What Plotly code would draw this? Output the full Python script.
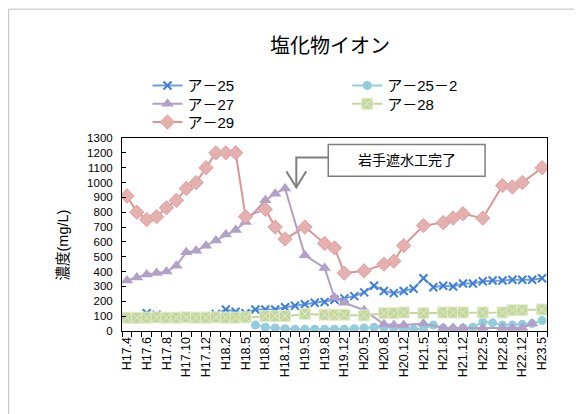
import plotly.graph_objects as go

categories = ["H17.4","H17.5","H17.6","H17.7","H17.8","H17.9","H17.10","H17.11","H17.12",
              "H18.1","H18.2","H18.3","H18.5","H18.7","H18.8","H18.10","H18.12",
              "H19.2","H19.5","H19.7","H19.8","H19.10","H19.12",
              "H20.2","H20.5","H20.7","H20.8","H20.10","H20.12",
              "H21.2","H21.5","H21.7","H21.8","H21.10","H21.12",
              "H22.2","H22.5","H22.7","H22.8","H22.10","H22.12",
              "H23.2","H23.5"]
tick_labels = ["H17.4","H17.6","H17.8","H17.10","H17.12","H18.2","H18.5","H18.8","H18.12",
               "H19.5","H19.8","H19.12","H20.5","H20.8","H20.12","H21.5","H21.8","H21.12",
               "H22.5","H22.8","H22.12","H23.5"]

a25 = [85, 95, 120, 110, 95, 90, 90, 95, 100, 115, 145, 130, 120, 145, 145, 145, 160,
       170, 180, 190, 195, 210, 220, 235, 260, 305, 270, 255, 270, 285, 355, 295, 305,
       300, 320, 320, 335, 340, 340, 345, 345, 345, 355]
a25_2 = [None]*13 + [40, 25, 20, 15, 12, 12, 12, 12, 12, 12, 15, 20, 25, 25, 20, 15, 12,
                     15, 40, 20, 15, 20, 25, 60, 55, 40, 40, 45, 50, 70]
a27 = [340, 360, 380, 390, 400, 440, 530, 540, 575, 610, 650, 680, 735, None, 880, 925, 960,
       None, 510, None, 425, 225, 190, None, 140, None, 45, 40, 40, None, 50, None, 20,
       20, 20, None, 20, None, 20, 20, 20, 50, None]
a28 = [90, 88, 90, 92, 90, 90, 92, 90, 90, 92, 90, 90, 92, None, 100, 100, 100,
       None, 115, None, 110, 110, 110, None, 105, None, 120, 120, 125, None, 120, None, 125,
       125, 125, None, 125, None, 125, 140, 140, None, 145]
a29 = [910, 800, 750, 770, 830, 880, 960, 1000, 1100, 1200, 1200, 1200, 770, None, 820, 700, 620,
       None, 700, None, 590, 560, 390, None, 405, None, 450, 470, 575, None, 710, None, 730,
       760, 790, None, 760, None, 980, 970, 1000, None, 1100]

series_names = ["ア－25", "ア－25－2", "ア－27", "ア－28", "ア－29"]

FONT = "Liberation Sans, Arial, Noto Sans CJK JP"

fig = go.Figure()
fig.add_trace(go.Scatter(x=categories, y=a25, name=series_names[0], mode="lines+markers",
                         connectgaps=True, legend="legend", line=dict(color="#6E9DE0", width=2),
                         marker=dict(symbol="x-thin", size=8, color="#3F7FD9",
                                     line=dict(color="#3F7FD9", width=2))))
fig.add_trace(go.Scatter(x=categories, y=a25_2, name=series_names[1], mode="lines+markers",
                         connectgaps=True, legend="legend2", line=dict(color="#93CDDD", width=2),
                         marker=dict(symbol="circle", size=9, color="#93CDDD")))
fig.add_trace(go.Scatter(x=categories, y=a27, name=series_names[2], mode="lines+markers",
                         connectgaps=True, legend="legend3", line=dict(color="#B1A0C7", width=2),
                         marker=dict(symbol="triangle-up", size=11, color="#B1A0C7")))
fig.add_trace(go.Scatter(x=categories, y=a28, name=series_names[3], mode="lines+markers",
                         connectgaps=True, legend="legend4", line=dict(color="#C3D69B", width=2),
                         marker=dict(symbol="square-x", size=11, color="#C3D69B",
                                     line=dict(color="#E4EDCF", width=1))))
fig.add_trace(go.Scatter(x=categories, y=a29, name=series_names[4], mode="lines+markers",
                         connectgaps=True, legend="legend5", line=dict(color="#D99694", width=2),
                         marker=dict(symbol="diamond", size=11, color="#E6B0AF",
                                     line=dict(color="#DDA09F", width=1))))

tick_text = [c if c in tick_labels else "" for c in categories]

# page offset (body margin) between figure coords and screenshot coords
OFF = 8
# plot area in screenshot coordinates
L, R, T, B = 121.5, 547.0, 137.5, 331.5
W = R - L
H = B - T
def px(x):
    return (x - L) / W
def py(y):
    return (B - y) / H

shapes = [
    dict(type="rect", xref="paper", yref="paper", x0=px(8), x1=px(575), y0=py(440), y1=py(8),
         line=dict(color="#BFBFBF", width=1), fillcolor="rgba(0,0,0,0)", layer="below"),
    dict(type="rect", xref="paper", yref="paper", x0=px(328), x1=px(485), y0=py(176), y1=py(144),
         line=dict(color="#7F7F7F", width=1.5), fillcolor="white"),
    dict(type="path", xref="paper", yref="paper",
         path=f"M{px(328)},{py(157)} L{px(296)},{py(157)} L{px(296)},{py(187)}",
         line=dict(color="#7F7F7F", width=2)),
    dict(type="path", xref="paper", yref="paper",
         path=f"M{px(286)},{py(171)} L{px(296)},{py(187)} L{px(306)},{py(171)}",
         line=dict(color="#7F7F7F", width=2)),
]

annotations = [
    dict(text="岩手遮水工完了", xref="paper", yref="paper", x=px(406.5), y=py(160),
         showarrow=False, font=dict(size=14, color="black", family=FONT),
         xanchor="center", yanchor="middle"),
    dict(text="濃度(mg/L)", xref="paper", yref="paper", x=px(62), y=py(245),
         showarrow=False, textangle=-90, font=dict(size=14.5, color="black", family=FONT),
         xanchor="center", yanchor="middle"),
]

def leg(xtext, yrow):
    return dict(orientation="v", xanchor="left", yanchor="middle",
                x=px(xtext - 41), y=py(yrow),
                font=dict(size=15, family=FONT, color="black"),
                bgcolor="rgba(0,0,0,0)", tracegroupgap=0)

fig.update_layout(
    width=582, height=414,
    margin=dict(l=L - OFF, r=582 - (R - OFF), t=T - OFF, b=414 - (B - OFF), autoexpand=False),
    paper_bgcolor="white", plot_bgcolor="white",
    font=dict(family=FONT, color="black"),
    title=dict(text="塩化物イオン", x=(330 - OFF) / 582, y=1 - (46 - OFF) / 414,
               xanchor="center", yanchor="middle",
               font=dict(size=20, color="black", family=FONT)),
    legend=leg(188, 85),
    legend2=leg(388, 85),
    legend3=leg(188, 103.3),
    legend4=leg(388, 103.3),
    legend5=leg(188, 121.7),
    showlegend=True,
    shapes=shapes,
    annotations=annotations,
    xaxis=dict(type="category", categoryorder="array", categoryarray=categories,
               range=[-0.5, len(categories) - 0.5],
               tickmode="array", tickvals=categories, ticktext=tick_text,
               tickson="boundaries", ticks="outside", ticklen=5, tickcolor="black",
               tickangle=-90, tickfont=dict(size=12.5, family=FONT),
               showline=True, linecolor="black", linewidth=1, mirror=True,
               showgrid=False, zeroline=False),
    yaxis=dict(range=[0, 1300], dtick=100, tick0=0, ticks="inside", ticklen=4, tickcolor="black",
               tickfont=dict(size=11.5, family=FONT), ticklabelstandoff=6,
               showline=True, linecolor="black", linewidth=1, mirror=True,
               showgrid=False, zeroline=False),
)

fig.write_html("out.html")
